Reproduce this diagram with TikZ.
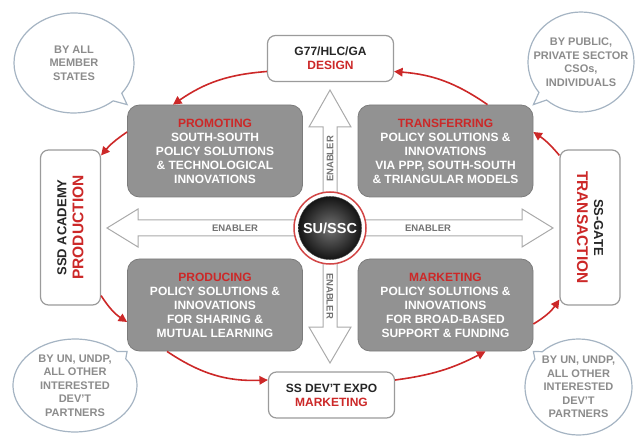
\documentclass[tikz,border=0pt]{standalone}
\usepackage{fontspec}
\setmainfont{Liberation Sans}
\usetikzlibrary{arrows.meta,shapes.callouts,shapes.geometric}

\definecolor{ssred}{RGB}{204,40,40}
\definecolor{boxgray}{RGB}{146,146,146}
\definecolor{edgegray}{RGB}{155,155,155}
\definecolor{bubbleedge}{RGB}{165,180,195}
\definecolor{bubbletxt}{RGB}{140,140,140}
\definecolor{hubred}{RGB}{210,70,70}

\begin{document}
\begin{tikzpicture}[x=1pt, y=1pt,
    graybox/.style={rectangle, rounded corners=12pt, fill=boxgray, draw=boxgray!85!black, line width=0.8pt,
        minimum width=175pt, minimum height=92pt, align=center, text=white, font=\bfseries\fontsize{12}{14}\selectfont},
    whitebox/.style={rectangle, rounded corners=8pt, fill=white, draw=edgegray, line width=1.2pt,
        minimum width=126pt, minimum height=46pt, align=center, text=black!85, font=\bfseries\fontsize{12}{14}\selectfont},
    sidebox/.style={rectangle, rounded corners=8pt, fill=white, draw=edgegray, line width=1.2pt,
        minimum width=60pt, minimum height=155pt},
    sidetext/.style={align=center, text=black!85, font=\bfseries\fontsize{13}{17}\selectfont},
    bubble/.style={ellipse callout, draw=bubbleedge, fill=white, line width=1.2pt, inner sep=0pt, callout pointer arc=12},
    bubbletext/.style={align=center, text=bubbletxt, font=\bfseries\fontsize{11}{13.5}\selectfont},
    blockarrow/.style={fill=white, draw=edgegray!85, line width=1pt, line join=miter},
    enabler/.style={text=black!55, font=\bfseries\fontsize{9.5}{11}\selectfont},
    flow/.style={draw=ssred, line width=1.6pt, -{Triangle[length=8.5pt,width=8.5pt]}}
]
    \useasboundingbox (0,0) rectangle (635,437);

    % Enabler arrows
    \draw[blockarrow] (107,209) -- (138,228) -- (138,217) -- (522,217) -- (522,228) -- (553,209)
        -- (522,190) -- (522,201) -- (138,201) -- (138,190) -- cycle;
    \draw[blockarrow] (330,347) -- (351,310) -- (337,310) -- (337,110) -- (351,110) -- (330,74)
        -- (309,110) -- (323,110) -- (323,310) -- (309,310) -- cycle;
    \node[enabler] (enablerw) at (235,209) {ENABLER};
    \node[enabler] (enablere) at (428,209) {ENABLER};
    \node[enabler, rotate=90] (enablern) at (330,278) {ENABLER};
    \node[enabler, rotate=-90] (enablers) at (330,141) {ENABLER};

    % Hub
    \node[circle, draw=hubred, line width=1.5pt, fill=white, minimum size=72pt] (hub) at (330,209) {};
    \node[circle, minimum size=62pt, inner color=black!55, outer color=black!92, draw=black!70,
        text=white, font=\bfseries\fontsize{14.5}{16}\selectfont] (hubcore) at (hub) {SU/SSC};

    % Activities
    \node[graybox] (promoting) at (215,286) {\textcolor{ssred}{PROMOTING}\\SOUTH-SOUTH\\POLICY SOLUTIONS\\\& TECHNOLOGICAL\\INNOVATIONS};
    \node[graybox] (transferring) at (445.5,286) {\textcolor{ssred}{TRANSFERRING}\\POLICY SOLUTIONS \&\\INNOVATIONS\\VIA PPP, SOUTH-SOUTH\\\& TRIANGULAR MODELS};
    \node[graybox] (producing) at (215,132) {\textcolor{ssred}{PRODUCING}\\POLICY SOLUTIONS \&\\INNOVATIONS\\FOR SHARING \&\\MUTUAL LEARNING};
    \node[graybox] (marketing) at (445.5,132) {\textcolor{ssred}{MARKETING}\\POLICY SOLUTIONS \&\\INNOVATIONS\\FOR BROAD-BASED\\SUPPORT \& FUNDING};

    % Platforms
    \node[whitebox] (design) at (330.5,378.5) {G77/HLC/GA\\\textcolor{ssred}{DESIGN}};
    \node[whitebox] (expo) at (331.5,42) {SS DEV'T EXPO\\\textcolor{ssred}{MARKETING}};
    \node[sidebox] (academy) at (70.5,209.5) {};
    \node[sidetext, rotate=90] (academytext) at (academy) {SSD ACADEMY\\{\fontsize{15.5}{17}\selectfont\color{ssred}PRODUCTION}};
    \node[sidebox] (gate) at (590,209.5) {};
    \node[sidetext, rotate=-90] (gatetext) at (gate) {SS-GATE\\{\fontsize{15.5}{17}\selectfont\color{ssred}TRANSACTION}};

    % Actors
    \node[bubble, minimum width=120pt, minimum height=100pt, callout absolute pointer=(promoting.north west)] (members) at (74,374) {};
    \node[bubbletext] (memberstext) at (members) {BY ALL\\MEMBER\\STATES};
    \node[bubble, minimum width=106pt, minimum height=100pt, callout absolute pointer=(transferring.north east)] (public) at (581,375) {};
    \node[bubbletext] (publictext) at (public) {BY PUBLIC,\\PRIVATE SECTOR\\CSOs,\\INDIVIDUALS};
    \node[bubble, minimum width=124pt, minimum height=93pt, callout absolute pointer=(producing.south west)] (partnersw) at (75,51.5) {};
    \node[bubbletext] (partnerswtext) at (partnersw) {BY UN, UNDP,\\ALL OTHER\\INTERESTED\\DEV'T\\PARTNERS};
    \node[bubble, minimum width=107pt, minimum height=96pt, callout absolute pointer=(marketing.south east)] (partnerse) at (578.5,50) {};
    \node[bubbletext] (partnersetext) at (partnerse) {BY UN, UNDP,\\ALL OTHER\\INTERESTED\\DEV'T\\PARTNERS};

    % Cycle
    \draw[flow] ([yshift=-13pt]design.west) to[bend right=15] ([xshift=-42pt]promoting.north);
    \draw[flow] ([yshift=19pt]promoting.west) to[bend right=8] ([yshift=-6pt]academy.north east);
    \draw[flow] ([yshift=10pt]academy.south east) to[bend right=12] ([yshift=-17pt]producing.west);
    \draw[flow] ([xshift=-48pt]producing.south) to[bend right=18] ([yshift=15pt]expo.west);
    \draw[flow] ([yshift=15pt]expo.east) to[bend right=10] ([xshift=40pt]marketing.south);
    \draw[flow] ([yshift=-19pt]marketing.east) to[bend right=12] ([yshift=6pt]gate.south west);
    \draw[flow] ([yshift=-6pt]gate.north west) to[bend right=8] ([yshift=19pt]transferring.east);
    \draw[flow] ([xshift=42pt]transferring.north) to[bend right=15] ([yshift=-13pt]design.east);
\end{tikzpicture}
\end{document}
